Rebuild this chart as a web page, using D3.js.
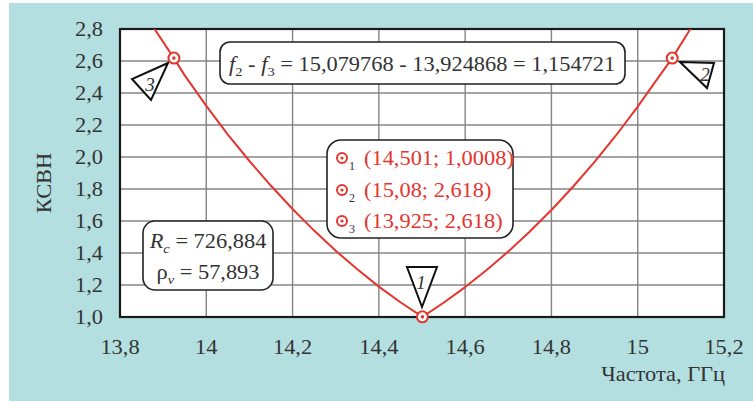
<!DOCTYPE html>
<html>
<head>
<meta charset="utf-8">
<script src="https://cdn.jsdelivr.net/npm/d3@7"></script>
<style>
  html, body { margin: 0; padding: 0; background: #ffffff; }
  svg { display: block; }
</style>
</head>
<body>
<svg id="chart" width="753" height="401"></svg>
<script>
// Frequency sweep, GHz
const freq = [13.85, 13.88, 13.925, 13.95, 14.0, 14.05, 14.1, 14.15, 14.2, 14.25, 14.3, 14.35, 14.4, 14.45,
              14.501, 14.55, 14.6, 14.65, 14.7, 14.75, 14.8, 14.85, 14.9, 14.95, 15.0, 15.05, 15.08, 15.122, 15.15];
// Measured VSWR at each frequency
const vswr = [2.93, 2.80, 2.618, 2.51, 2.32, 2.14, 1.975, 1.82, 1.675, 1.54, 1.414, 1.298, 1.19, 1.092,
              1.0008, 1.089, 1.187, 1.294, 1.409, 1.534, 1.669, 1.814, 1.970, 2.136, 2.315, 2.505, 2.618, 2.80, 2.93];

// Marker readouts
const markerIds = [1, 2, 3];
const markerFreq = [14.501, 15.08, 13.925];
const markerVswr = [1.0008, 2.618, 2.618];
const markerLabels = ["(14,501; 1,0008)", "(15,08; 2,618)", "(13,925; 2,618)"];

// Axis ticks
const xTicks = [13.8, 14.0, 14.2, 14.4, 14.6, 14.8, 15.0, 15.2];
const xTickLabels = ["13,8", "14", "14,2", "14,4", "14,6", "14,8", "15", "15,2"];
const yTicks = [1.0, 1.2, 1.4, 1.6, 1.8, 2.0, 2.2, 2.4, 2.6, 2.8];
const yTickLabels = ["1,0", "1,2", "1,4", "1,6", "1,8", "2,0", "2,2", "2,4", "2,6", "2,8"];

const bandText = { a: "15,079768", b: "13,924868", d: "1,154721" };
const circuitText = { rc: "726,884", rho: "57,893" };

const W = 753, H = 401;
const plot = { left: 120, right: 724, top: 29, bottom: 317 };
const ink = "#333333";
const red = "#e4352e";
const serif = "Liberation Serif";
const sx = 1.12; // horizontal stretch of the lettering

const svg = d3.select("#chart");

// Background
svg.append("rect").attr("width", W).attr("height", H).attr("fill", "#ffffff");
svg.append("rect").attr("x", 9).attr("y", 3).attr("width", W - 9).attr("height", H - 3).attr("fill", "#b3dfe0");

const x = d3.scaleLinear().domain([13.8, 15.2]).range([plot.left, plot.right]);
const y = d3.scaleLinear().domain([1.0, 2.8]).range([plot.bottom, plot.top]);

// Plot area
svg.append("rect")
  .attr("x", plot.left).attr("y", plot.top)
  .attr("width", plot.right - plot.left).attr("height", plot.bottom - plot.top)
  .attr("fill", "#ffffff");

// Grid
const grid = svg.append("g").attr("stroke", "#858585").attr("stroke-width", 1.4);
grid.selectAll("line.v").data(xTicks.slice(1, -1)).join("line")
  .attr("x1", d => x(d)).attr("x2", d => x(d))
  .attr("y1", plot.top).attr("y2", plot.bottom);
grid.selectAll("line.h").data(yTicks.slice(1, -1)).join("line")
  .attr("x1", plot.left).attr("x2", plot.right)
  .attr("y1", d => y(d)).attr("y2", d => y(d));

// Frame
svg.append("rect")
  .attr("x", plot.left).attr("y", plot.top)
  .attr("width", plot.right - plot.left).attr("height", plot.bottom - plot.top)
  .attr("fill", "none").attr("stroke", "#1a1a1a").attr("stroke-width", 2.2);

// helper: serif text with a slight horizontal stretch
function stext(g, px, py, anchor, size) {
  return g.append("text")
    .attr("transform", `translate(${px},${py}) scale(${sx},1)`)
    .attr("text-anchor", anchor)
    .attr("font-family", serif)
    .attr("font-size", size)
    .attr("fill", ink);
}

// Y axis labels
const yAxis = svg.append("g");
yTicks.forEach((t, i) => {
  stext(yAxis, 103, y(t) + 7, "end", 20).text(yTickLabels[i]);
});
// X axis labels
const xAxis = svg.append("g");
xTicks.forEach((t, i) => {
  stext(xAxis, x(t), 354, "middle", 20).text(xTickLabels[i]);
});

// Axis titles
svg.append("text")
  .attr("transform", `translate(51,183) rotate(-90) scale(${sx},1)`)
  .attr("text-anchor", "middle").attr("font-family", serif).attr("font-size", 20).attr("fill", ink)
  .text("КСВН");
stext(svg, 725, 381, "end", 20).text("Частота, ГГц");

// Curve
svg.append("clipPath").attr("id", "plotClip")
  .append("rect").attr("x", plot.left).attr("y", plot.top)
  .attr("width", plot.right - plot.left).attr("height", plot.bottom - plot.top);

const pts = freq.map((f, i) => [f, vswr[i]]);
const line = d3.line().x(d => x(d[0])).y(d => y(d[1])).curve(d3.curveLinear);
svg.append("path")
  .attr("clip-path", "url(#plotClip)")
  .attr("d", line(pts))
  .attr("fill", "none").attr("stroke", red).attr("stroke-width", 2)
  .attr("stroke-linejoin", "round");

// Marker flags (triangles with numbers)
const flags = [
  { pts: [[407, 267], [437, 267], [422, 307]], lx: 421, ly: 289, rot: 0 },
  { pts: [[680, 62], [714, 63], [707, 88]], lx: 705, ly: 81, rot: 0 },
  { pts: [[168, 63], [132, 79], [151, 100]], lx: 150, ly: 91, rot: 0 }
];
const flagG = svg.append("g");
markerIds.forEach((id, i) => {
  const fl = flags[i];
  flagG.append("polygon")
    .attr("points", fl.pts.map(p => p.join(",")).join(" "))
    .attr("fill", "#ffffff").attr("stroke", "#111111").attr("stroke-width", 2).attr("stroke-linejoin", "miter");
  flagG.append("text")
    .attr("transform", `translate(${fl.lx},${fl.ly}) rotate(${fl.rot})`)
    .attr("text-anchor", "middle").attr("font-family", serif).attr("font-size", 19).attr("font-style", "italic")
    .attr("fill", ink).text(id);
});

// Marker symbols on the curve
function markerSymbol(g, cx, cy, r) {
  g.append("circle").attr("cx", cx).attr("cy", cy).attr("r", r)
    .attr("fill", "#ffffff").attr("stroke", red).attr("stroke-width", 2);
  g.append("circle").attr("cx", cx).attr("cy", cy).attr("r", r * 0.32).attr("fill", red);
}
const mk = svg.append("g");
markerIds.forEach((id, i) => markerSymbol(mk, x(markerFreq[i]), y(markerVswr[i]), 5.5));

// Bandwidth box
svg.append("rect").attr("x", 220).attr("y", 42).attr("width", 405).attr("height", 42).attr("rx", 10)
  .attr("fill", "#ffffff").attr("stroke", "#222222").attr("stroke-width", 1.6);
const bt = stext(svg, 229, 71, "start", 20);
bt.append("tspan").attr("font-style", "italic").text("f");
bt.append("tspan").attr("font-size", 13).attr("dy", 5).text("2");
bt.append("tspan").attr("dy", -5).text(" - ");
bt.append("tspan").attr("font-style", "italic").text("f");
bt.append("tspan").attr("font-size", 13).attr("dy", 5).text("3");
bt.append("tspan").attr("dy", -5).text(` = ${bandText.a} - ${bandText.b} = ${bandText.d}`);

// Marker table box
svg.append("rect").attr("x", 327).attr("y", 140).attr("width", 186).attr("height", 98).attr("rx", 14)
  .attr("fill", "#ffffff").attr("stroke", "#222222").attr("stroke-width", 1.6);
const rowY = [165, 197, 228];
markerIds.forEach((id, i) => {
  markerSymbol(svg, 342, rowY[i] - 7, 5);
  svg.append("text").attr("x", 349).attr("y", rowY[i] + 5).attr("font-family", serif)
    .attr("font-size", 12).attr("fill", ink).text(id);
  stext(svg, 364, rowY[i], "start", 20).attr("fill", red).text(markerLabels[i]);
});

// Circuit parameters box
svg.append("rect").attr("x", 143).attr("y", 221).attr("width", 130).attr("height", 69).attr("rx", 12)
  .attr("fill", "#ffffff").attr("stroke", "#222222").attr("stroke-width", 1.6);
const r1 = stext(svg, 208, 248, "middle", 20);
r1.append("tspan").attr("font-style", "italic").text("R");
r1.append("tspan").attr("font-style", "italic").attr("font-size", 13).attr("dy", 5).text("c");
r1.append("tspan").attr("dy", -5).text(` = ${circuitText.rc}`);
const r2 = stext(svg, 208, 279, "middle", 20);
r2.append("tspan").text("ρ");
r2.append("tspan").attr("font-style", "italic").attr("font-size", 13).attr("dy", 5).text("v");
r2.append("tspan").attr("dy", -5).text(` = ${circuitText.rho}`);
</script>
</body>
</html>
